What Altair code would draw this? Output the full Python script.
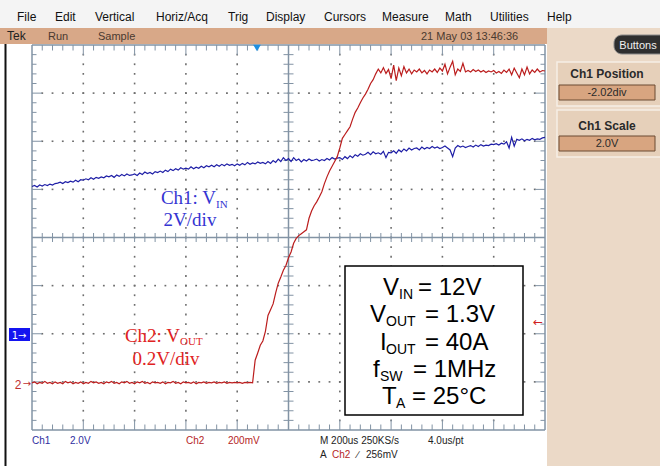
import altair as alt
import pandas as pd

# ---------------- data (in screen divisions) ----------------
SAMPLE_DIV = 0.05          # one sample every 0.05 div (10 us at 200 us/div)

# Ch1 (V_IN, 2 V/div) trace, divisions from screen centre
ch1_div = [
    1.06, 1.08, 1.05, 1.09, 1.07, 1.10, 1.08, 1.11, 1.09, 1.12,
    1.13, 1.15, 1.12, 1.16, 1.14, 1.17, 1.15, 1.19, 1.16, 1.20,
    1.19, 1.22, 1.20, 1.24, 1.21, 1.25, 1.23, 1.26, 1.24, 1.28,
    1.26, 1.29, 1.25, 1.30, 1.27, 1.31, 1.28, 1.32, 1.29, 1.30,
    1.32, 1.29, 1.34, 1.31, 1.36, 1.33, 1.35, 1.32, 1.37, 1.35,
    1.38, 1.35, 1.40, 1.37, 1.42, 1.39, 1.43, 1.40, 1.45, 1.42,
    1.44, 1.42, 1.47, 1.43, 1.46, 1.44, 1.48, 1.45, 1.49, 1.47,
    1.50, 1.47, 1.51, 1.48, 1.52, 1.49, 1.53, 1.50, 1.52, 1.49,
    1.53, 1.50, 1.54, 1.51, 1.56, 1.52, 1.55, 1.53, 1.57, 1.54,
    1.56, 1.53, 1.58, 1.54, 1.60, 1.56, 1.63, 1.58, 1.66, 1.60,
    1.64, 1.58, 1.66, 1.60, 1.63, 1.57, 1.62, 1.59, 1.63, 1.60,
    1.61, 1.63, 1.59, 1.62, 1.60, 1.64, 1.61, 1.66, 1.63, 1.65,
    1.66, 1.62, 1.68, 1.64, 1.70, 1.66, 1.72, 1.69, 1.74, 1.71,
    1.73, 1.77, 1.72, 1.78, 1.74, 1.76, 1.73, 1.79, 1.66, 1.77,
    1.76, 1.80, 1.75, 1.82, 1.78, 1.84, 1.80, 1.86, 1.82, 1.85,
    1.86, 1.82, 1.88, 1.84, 1.87, 1.85, 1.89, 1.86, 1.88, 1.85,
    1.87, 1.90, 1.86, 1.82, 1.68, 1.86, 1.91, 1.88, 1.90, 1.87,
    1.89, 1.91, 1.88, 1.92, 1.89, 1.93, 1.90, 1.92, 1.91, 1.94,
    1.93, 1.95, 1.92, 1.96, 1.94, 1.99, 1.86, 2.08, 1.90, 2.04,
    2.02, 2.05, 2.01, 2.04, 2.02, 2.06, 2.03, 2.05, 2.04, 2.07,
    2.08,
]

# Ch2 (V_OUT, 0.2 V/div) trace, divisions from screen centre
ch2_div = [
    -3.02, -3.00, -3.04, -3.01, -3.03, -2.99, -3.03, -3.01, -3.04, -3.00,
    -3.03, -3.01, -3.04, -2.99, -3.02, -3.00, -3.04, -3.01, -3.03, -3.00,
    -3.04, -3.01, -3.03, -2.99, -3.02, -3.00, -3.03, -3.01, -3.04, -3.00,
    -3.02, -2.99, -3.03, -3.01, -3.04, -3.00, -3.02, -2.99, -3.03, -3.01,
    -3.04, -3.00, -3.02, -2.99, -3.03, -3.01, -3.04, -3.00, -3.02, -3.01,
    -3.03, -3.00, -3.04, -3.01, -3.02, -2.99, -3.03, -3.01, -3.04, -3.00,
    -3.02, -3.01, -3.03, -3.00, -3.04, -3.01, -3.02, -3.00, -3.03, -3.01,
    -3.02, -3.00, -3.03, -3.01, -3.02, -3.00, -3.03, -3.01, -3.02, -3.01,
    -3.02, -3.01, -3.03, -3.01, -3.02, -3.01, -3.02, -2.55, -2.40, -2.24,
    -2.15, -1.95, -1.62, -1.50, -1.38, -1.15, -0.95, -0.82, -0.68, -0.58,
    -0.42, -0.30, -0.12, -0.02, 0.04, 0.08, 0.12, 0.16, 0.40, 0.55,
    0.66, 0.74, 0.84, 0.95, 1.12, 1.26, 1.38, 1.48, 1.58, 1.68,
    1.86, 2.06, 2.14, 2.22, 2.30, 2.46, 2.60, 2.69, 2.80, 2.90,
    2.98, 3.08, 3.20, 3.28, 3.40, 3.50, 3.42, 3.53, 3.41, 3.49,
    3.30, 3.58, 3.26, 3.52, 3.36, 3.55, 3.42, 3.50, 3.40, 3.48,
    3.44, 3.50, 3.42, 3.47, 3.40, 3.48, 3.44, 3.50, 3.43, 3.52,
    3.46, 3.60, 3.40, 3.54, 3.66, 3.38, 3.50, 3.45, 3.62, 3.44,
    3.47, 3.44, 3.49, 3.45, 3.48, 3.44, 3.47, 3.43, 3.46, 3.44,
    3.47, 3.42, 3.45, 3.41, 3.48, 3.43, 3.50, 3.38, 3.52, 3.42,
    3.32, 3.50, 3.38, 3.54, 3.40, 3.48, 3.43, 3.50, 3.44, 3.47,
    3.46,
]

menu_items = ["File", "Edit", "Vertical", "Horiz/Acq", "Trig", "Display",
              "Cursors", "Measure", "Math", "Utilities", "Help"]
info_lines = [("V", "IN", "= 12V"), ("V", "OUT", "= 1.3V"), ("I", "OUT", "= 40A"),
              ("f", "SW", "= 1MHz"), ("T", "A", "= 25°C")]

# ---------------- geometry of the screen ----------------
PX0, PY0, DX, DY = 32.0, 45.0, 51.3, 48.125   # graticule origin and px per division


def X(px):
    return (px - PX0) / DX


def Y(py):
    return 4 - (py - PY0) / DY


XS = alt.Scale(domain=[0, 10], nice=False, zero=False)
YS = alt.Scale(domain=[-4, 4], nice=False, zero=False)
xq = alt.X("x:Q", scale=XS, axis=None)
yq = alt.Y("y:Q", scale=YS, axis=None)


def rects(rows, **kw):
    df = pd.DataFrame([{"x": X(a), "y": Y(b), "x2": X(c), "y2": Y(d), "f": f}
                       for a, b, c, d, f in rows])
    return alt.Chart(df).mark_rect(**kw).encode(
        x=xq, x2="x2:Q", y=yq, y2="y2:Q", color=alt.Color("f:N", scale=None))


def texts(rows, **kw):
    df = pd.DataFrame([{"x": X(a), "y": Y(b), "t": s} for a, b, s in rows])
    return alt.Chart(df).mark_text(**kw).encode(x=xq, y=yq, text="t:N")


def rules(segs, **kw):
    df = pd.DataFrame([{"x": a, "y": b, "x2": c, "y2": d} for a, b, c, d in segs])
    return alt.Chart(df).mark_rule(**kw).encode(x=xq, x2="x2:Q", y=yq, y2="y2:Q")


# ---------------- chrome ----------------
bg = rects([
    (0, 0, 660, 28, "#f4f4f4"),
    (0, 28, 547, 44, "#d8a888"),
    (547, 28, 660, 466, "#ebd9c7"),
])
panels = rects([(557, 62, 662, 106, "#e6d0ba"), (557, 110, 662, 157, "#e6d0ba")],
               stroke="#f6eee6", strokeWidth=1.5)
valboxes = rects([(559, 85, 655, 100, "#d8a580"), (559, 136, 655, 151, "#d8a580")],
                 stroke="#6b4a33", strokeWidth=1)
button = rects([(614, 35, 672, 54, "#2f2f2f")], cornerRadius=8,
               stroke="#8a8a8a", strokeWidth=1)
infobox = rects([(345, 266, 523, 415, "#ffffff")], stroke="#000000", strokeWidth=1.5)
ch1box = rects([(9, 328, 30, 341, "#1414f0")])

leftline = rules([(X(5.5), Y(44), X(5.5), Y(466))], color="#111111", strokeWidth=2)

# graticule
GC = "#8293a4"
frame = [(0, -4, 10, -4), (0, 4, 10, 4), (0, -4, 0, 4), (10, -4, 10, 4),
         (0, 0, 10, 0), (5, -4, 5, 4)]
ticks = []
for k in range(1, 50):
    xv = k * 0.2
    L = (10 if k % 5 == 0 else 5.5) / DY
    ticks += [(xv, 4, xv, 4 - L), (xv, -4, xv, -4 + L),
              (xv, -4.5 / DY, xv, 4.5 / DY)]
for k in range(1, 40):
    yv = -4 + k * 0.2
    L = (10 if k % 5 == 0 else 4.5) / DX
    ticks += [(0, yv, L, yv), (10, yv, 10 - L, yv),
              (5 - 5 / DX, yv, 5 + 5 / DX, yv)]
grat = rules(frame, color=GC, strokeWidth=1.5) + rules(ticks, color=GC, strokeWidth=1)

# dotted graticule: one tiny dot every 0.2 div along every major division line
dot_len_x = 1.8 / DX
dot_len_y = 1.8 / DY
dotsegs = []
for i in [1, 2, 3, 4, 6, 7, 8, 9]:
    dotsegs += [(i, -4 + j * 0.2 - dot_len_y / 2, i, -4 + j * 0.2 + dot_len_y / 2)
                for j in range(1, 40)]
for m in [-3, -2, -1, 1, 2, 3]:
    dotsegs += [(k * 0.2 - dot_len_x / 2, m, k * 0.2 + dot_len_x / 2, m)
                for k in range(1, 50)]
griddots = rules(dotsegs, color="#6e6e6e", strokeWidth=1.6)

# ---------------- traces ----------------
tr = pd.DataFrame({"x": [i * SAMPLE_DIV for i in range(len(ch1_div))],
                   "ch1": ch1_div, "ch2": ch2_div})
blue = alt.Chart(tr).mark_line(color="#1e1ea6", strokeWidth=1.2).encode(
    x=xq, y=alt.Y("ch1:Q", scale=YS, axis=None))
red = alt.Chart(tr).mark_line(color="#bb1d1d", strokeWidth=1.2).encode(
    x=xq, y=alt.Y("ch2:Q", scale=YS, axis=None))

# trigger position marker
trig = alt.Chart(pd.DataFrame([{"x": X(257), "y": Y(48)}])).mark_point(
    shape="triangle-down", filled=True, size=60, color="#1f8fe0", opacity=1
).encode(x=xq, y=yq)

# ---------------- texts ----------------
UI = "Liberation Sans"
menu_x = [17, 55, 95, 156, 228, 266, 324, 382, 445, 490, 547]
t_menu = texts([(px, 21, s) for px, s in zip(menu_x, menu_items)],
               font=UI, fontSize=12, color="#111111", align="left", baseline="alphabetic")
t_status = texts([(7, 40, "Tek")], font=UI, fontSize=12, color="#222222",
                 align="left", baseline="alphabetic") + \
    texts([(48, 40, "Run"), (98, 40, "Sample"), (421, 40, "21 May 03 13:46:36")],
          font=UI, fontSize=11, color="#4a3a30", align="left", baseline="alphabetic")
t_button = texts([(638, 49, "Buttons")], font=UI, fontSize=11, color="#f0f0f0",
                 align="center", baseline="alphabetic")
t_panel = texts([(607, 78, "Ch1 Position"), (607, 130, "Ch1 Scale")], font=UI,
                fontSize=12, fontWeight="bold", color="#2a2a2a", align="center",
                baseline="alphabetic") + \
    texts([(607, 96, "-2.02div"), (607, 147, "2.0V")], font=UI, fontSize=11,
          color="#2a2a2a", align="center", baseline="alphabetic")

t_bottom = (
    texts([(32, 444, "Ch1"), (70, 444, "2.0V")], font=UI, fontSize=10,
          color="#2e2ea0", align="left", baseline="alphabetic")
    + texts([(186, 444, "Ch2"), (228, 444, "200mV"), (332, 458, "Ch2")], font=UI,
            fontSize=10, color="#b52525", align="left", baseline="alphabetic")
    + texts([(320, 444, "M 200us 250KS/s"), (428, 444, "4.0us/pt"), (320, 458, "A"),
             (357, 458, "\u2215"), (366, 458, "256mV")], font=UI, fontSize=10,
            color="#222222", align="left", baseline="alphabetic")
)

SER = "Liberation Serif"
t_ch1 = (texts([(216, 204, "Ch1: V")], font=SER, fontSize=19, color="#3535d2",
               align="right", baseline="alphabetic")
         + texts([(216, 208, "IN")], font=SER, fontSize=11, color="#3535d2",
                 align="left", baseline="alphabetic")
         + texts([(190, 226, "2V/div")], font=SER, fontSize=19, color="#3535d2",
                 align="center", baseline="alphabetic"))
t_ch2 = (texts([(180, 342, "Ch2: V")], font=SER, fontSize=19, color="#e02222",
               align="right", baseline="alphabetic")
         + texts([(180, 345, "OUT")], font=SER, fontSize=11, color="#e02222",
                 align="left", baseline="alphabetic")
         + texts([(166, 365, "0.2V/div")], font=SER, fontSize=19, color="#e02222",
                 align="center", baseline="alphabetic"))

main_x = [383, 370, 380, 373, 382]
sub_x = [399, 386, 386, 380, 396]
rest_x = [418, 425, 425, 413, 412]
base_y = [295, 322, 350, 377, 404]
t_info = (
    texts([(main_x[i], base_y[i], l[0]) for i, l in enumerate(info_lines)], font=UI,
          fontSize=24, color="#000000", align="left", baseline="alphabetic")
    + texts([(sub_x[i], base_y[i] + 4, l[1]) for i, l in enumerate(info_lines)], font=UI,
            fontSize=14, color="#000000", align="left", baseline="alphabetic")
    + texts([(rest_x[i], base_y[i], l[2]) for i, l in enumerate(info_lines)], font=UI,
            fontSize=24, color="#000000", align="left", baseline="alphabetic")
)

t_marks = (
    texts([(19, 339, "1\u2192")], font="DejaVu Sans", fontSize=10, color="#ffffff",
          align="center", baseline="alphabetic")
    + texts([(18, 389, "2")], font=UI, fontSize=12, color="#c03030", align="center",
            baseline="alphabetic")
    + texts([(27, 387, "\u2192")], font="DejaVu Sans", fontSize=10, color="#c03030",
            align="center", baseline="alphabetic")
    + texts([(538, 326, "\u2190")], font="DejaVu Sans", fontSize=12, color="#d02020",
            align="center", baseline="alphabetic")
)

chart = alt.layer(
    bg, panels, valboxes, button, leftline, griddots, grat, infobox, ch1box,
    blue, red, trig,
    t_menu, t_status, t_button, t_panel, t_bottom, t_ch1, t_ch2, t_info, t_marks,
).properties(
    width=513, height=385,
    padding={"left": 32, "top": 45, "right": 115, "bottom": 36},
    autosize=alt.AutoSizeParams(type="none"),
    background="#ffffff",
).configure_view(stroke=None)

chart.save("out.html", embed_options={"renderer": "svg", "actions": False})
